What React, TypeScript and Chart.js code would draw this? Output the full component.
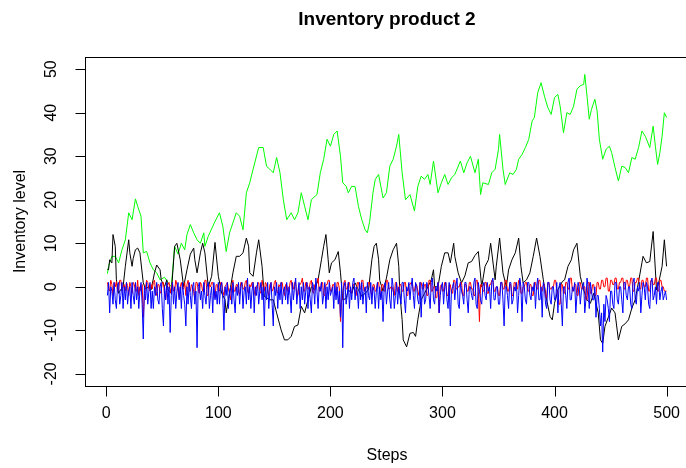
import React, { useEffect, useRef } from "react";
import { Chart, registerables } from "chart.js";

Chart.register(...registerables);

// ---------- text ----------
const TITLE = "Inventory product 2";
const X_LABEL = "Steps";
const Y_LABEL = "Inventory level";
const xTicks = [0, 100, 200, 300, 400, 500];
const yTicks = [-20, -10, 0, 10, 20, 30, 40, 50];

// ---------- green series (step, value) ----------
const greenSteps = [
  1, 2, 5, 8, 11, 14, 17, 20, 23, 26, 28, 31, 33, 36, 39, 42, 45, 48, 52, 55, 58, 61, 64, 67, 70, 72, 75, 78,
  81, 84, 87, 88, 91, 97, 101, 104, 107, 110, 116, 119, 122, 125, 128, 131, 136, 140, 143, 146, 149, 152, 155,
  158, 161, 165, 168, 171, 174, 177, 180, 183, 188, 191, 194, 197, 200, 203, 206, 209, 211, 214, 216, 219, 222,
  225, 228, 231, 233, 235, 238, 240, 243, 247, 250, 253, 256, 259, 261, 264, 267, 271, 275, 278, 281, 284, 287,
  289, 292, 296, 299, 302, 305, 308, 311, 316, 319, 322, 325, 329, 332, 334, 336, 341, 344, 347, 350, 351, 354,
  356, 360, 363, 366, 368, 371, 374, 377, 380, 382, 385, 388, 391, 394, 397, 400, 403, 405, 408, 411, 414, 417,
  420, 423, 426, 427, 429, 431, 433, 436, 438, 440, 443, 446, 449, 451, 454, 457, 460, 463, 466, 469, 472, 475,
  478, 481, 485, 488, 490, 492, 494, 496, 498, 500,
];
const greenValues = [
  3, 4.7, 7, 7, 5.5, 8.5, 10.8, 17, 15.4, 20.2, 18.5, 16.2, 7.8, 8.1, 5.5, 3.9, 3.2, 1.6, 2.2, 1, 0, 9.3, 7.5, 10,
  8.5, 12, 14.3, 12.4, 10.8, 10, 12.4, 9.3, 11.6, 15, 17, 13.9, 8.1, 12.4, 17, 16.2, 13.1, 21.6, 23.9, 27, 32, 32,
  27.7, 27, 26.2, 29.7, 26.2, 20, 15.4, 17, 15.4, 17, 21.6, 18.5, 15.4, 20, 21.2, 26.2, 29.3, 33.9, 32.3, 35, 35.8,
  30, 23.9, 23.1, 21.6, 23.1, 23, 18.5, 15.4, 13.1, 12.4, 15, 21.6, 24.7, 25.8, 20.4, 21.6, 27.7, 29.3, 32.3, 35,
  26.2, 20, 21.2, 17.4, 23.1, 25.4, 24.7, 25.8, 23.5, 28.9, 21.6, 23.9, 25.8, 23.5, 25, 25.8, 28.9, 26.2, 28.5, 30,
  26.2, 29.3, 21.2, 23.9, 23.5, 26.2, 27, 31.6, 35, 27, 23.5, 26.2, 25.8, 27, 29.3, 30.4, 32, 33.9, 38.1, 38.9,
  44.6, 46.9, 43.8, 41.2, 39.6, 43.5, 44.2, 41.5, 35.4, 40, 39.6, 41.5, 45.4, 46.2, 46.5, 48.8, 43.8, 38.5, 40.8,
  43.1, 40.4, 33.9, 29.3, 31.6, 32.3, 30.8, 27.4, 24.3, 27.7, 27.4, 26.2, 29.7, 29.3, 32, 35.8, 34.6, 32, 36.9,
  32.3, 28.1, 30.8, 34.6, 40, 38.9,
];

// ---------- black series (step, value) ----------
const blackSteps = [
  1, 2, 3, 5, 6, 8, 9, 11, 12, 15, 17, 20, 21, 23, 24, 26, 28, 30, 33, 35, 38, 40, 43, 45, 48, 49, 52, 54, 55, 58,
  61, 63, 66, 69, 72, 75, 78, 79, 81, 84, 86, 88, 91, 94, 97, 100, 103, 106, 107, 109, 110, 113, 116, 119, 122,
  125, 127, 128, 131, 134, 136, 139, 141, 146, 149, 152, 156, 159, 162, 165, 168, 171, 174, 177, 180, 183, 186,
  189, 192, 194, 196, 198, 199, 201, 204, 207, 209, 211, 214, 216, 219, 222, 225, 228, 231, 234, 237, 239, 241,
  243, 244, 247, 250, 253, 256, 259, 261, 262, 264, 265, 268, 271, 274, 276, 278, 281, 284, 287, 290, 292, 293,
  296, 299, 302, 305, 307, 310, 311, 314, 317, 320, 323, 326, 329, 332, 335, 338, 341, 343, 347, 348, 351, 354,
  357, 359, 362, 365, 368, 370, 372, 375, 378, 381, 384, 387, 390, 393, 396, 398, 400, 403, 407, 409, 412, 415,
  417, 420, 423, 426, 429, 432, 435, 439, 441, 443, 445, 448, 451, 454, 457, 460, 463, 466, 469, 472, 475, 478,
  479, 482, 485, 488, 491, 493, 496, 498, 500,
];
const blackValues = [
  4, 3.9, 6.2, 5.5, 12, 9.3, 1.6, -1.5, -1, 0, 4.7, 10.8, 7.8, 4.7, 6.5, 8.5, 8.9, 7.8, 0.9, -0.5, 0, -0.7, 3.2, 5,
  3.9, 1.6, 0, 1.6, -0.7, -1.5, 9.3, 10, 6.2, 0, 3.9, 7.5, 8.9, 6.2, 3.2, 7.8, 10, 7.8, 0, 2.4, 10.2, 2.4, -1.5,
  -3, -6, -3, -1.5, 3.2, 7, 7, 7.8, 11.2, 9.3, 3.2, 2.4, 7.8, 10.8, 4.7, -2.2, -3, -3, -6, -9.9, -12.2, -12.2,
  -11.4, -9.1, -8.8, -4.5, -6, -3, 0, -0.7, 1.6, 6.2, 9.3, 12, 6.2, 3.2, 5.5, 6.2, 8.1, 3.2, -3, -2.7, -0.7, -1.5,
  0.9, -0.7, -2.2, -1.5, -0.7, 6.2, 9.3, 10, 6.2, 1.5, -1, 2, 6.2, 8.5, 10, 4.7, -1.5, -7.6, -12.2, -13.8, -10.7,
  -10.5, -11.4, -7.6, -3, -1.5, 0, 1.6, 3.9, 0, 0, 4.7, 7.8, 7.8, 5.5, 10, 7, 3.2, 0.9, 2.5, 5.5, 5.8, 7.2, 8.1, 0,
  4.7, 6.2, 10, 1.6, 4.7, 11.2, 3.2, 0, 3.9, 6.2, 7.8, 11.2, 4.7, 0.9, 1.6, 3.2, 7, 11.2, 7, 1.6, -3, -6.8, -7.6,
  -3.8, -0.7, 1.2, 1.6, 4.7, 6.2, 8.5, 10, 2.4, -0.7, -3, -3.8, -1.5, -6, -12.2, -13, -9.1, -7, -4.9, -6, -12.2,
  -9.1, -8.5, -7.6, -4.9, -3, 1.2, 5.5, 7, 5.5, 5.8, 12.7, -0.7, 1, 4.7, 10.8, 4.7,
];

// ---------- red and blue series: one value per step (1 ... 500), ten steps per row ----------
const redValues = [
  1, -0.5, -1, 1.5, 0.5, -2, 1, 0, 1.2, -1,
  -0.5, 1.5, 1.5, -1, 0, 0.5, -1, 1, 0.3, -2,
  1, 0, -1.5, 1, 0.5, -1, -1, 1.5, -2, 0,
  -1, 0.5, -7, -2, 0, 1.5, 1, -0.5, -1, 0.5,
  -0.5, 1, 1.5, -1, -2, 0.5, 0.5, -1.5, -1, 1,
  1, -2, -3, 0, 0.5, 1, -1.5, 0, 1, -1,
  -1, 1.5, 0.5, -1, -2.5, 0, 1, -0.5, -0.5, 1,
  -2, 0.5, 1.5, -1, -1, 0.5, 0, -1, -3, 1,
  1, -0.5, -1.5, 1, 0.5, -1, -1, 1.5, 1.5, -2,
  -2, 0.5, 0, 1, 1, -1, -2.5, 0.5, 0.5, -1,
  -1, 1, 1, -1, -2, 0, 0.5, 1, -0.5, -1.5,
  -3, 0.5, 1.5, -1, -1, 0.5, 0.5, -1, -2, 1,
  1, -0.5, -0.5, 1, 1.5, -1, -1.5, 0.5, 0, 1,
  1, -1, -2, 0, 0.5, 1, -1, -1.5, 1.5, 0,
  -1, 1, 0.5, -1, -2, 0.5, 1, -1, -0.5, 1,
  1.5, -1, -1.5, 0.5, 0, 1, 1, -1, -2, 0.5,
  0.5, -1, -1, 1, 1.5, -0.5, -0.5, 1, 1, -2,
  -2, 0.5, 0.5, 1, 2, -1, -1, 1, 1, -0.5,
  -0.5, 1, 1.5, -1, -1.5, 0.5, 0.5, 1, 2, -1,
  -1, 1, 1, -2, -2, 0.5, 0.5, 1.5, 1.5, -1,
  -1, 0.5, 0.5, -1, -2, 1, 1, -0.5, -8, -3,
  -3, 1, 1.5, -0.5, -0.5, 1, 1, -1, -1.5, 0.5,
  0.5, -1, -2, 1, 1, -0.5, -0.5, 1.5, 1.5, -1,
  -1, 0, 0, 1, 1, -1, -2, 0.5, 0.5, -1,
  -1, 1, 1, -1, -2.5, 0.5, 0.5, -1, -1, 1.5,
  1.5, -0.5, -0.5, 0, 0, -1, -2, 1, 1, -1,
  -1.5, 0.5, 0.5, -1, -1, 1, 1, -2, -2, 0.5,
  0.5, 1, 1, -1, -1, 0.5, 0.5, -1, -2, 1,
  1, -0.5, -0.5, 0.5, 0.5, -2, -2, 1.5, 1.5, -1,
  -1, 0, 0, -2.5, -2.5, 1, -6, 0, 0.5, -1,
  -1, 1, 1, -2, -2, 0.5, 0.5, -1.5, -1.5, 1.5,
  1.5, -0.5, -0.5, 0, 0, 1, 1, -2, -2, 0.5,
  0.5, -1, -1, 1, 1, -0.5, -0.5, -2, -2, 1.5,
  1.5, -1, -8, 0.5, 0.5, -1, -1, 1, 1, -1.5,
  -1.5, 0.5, 0.5, 1.5, 1.5, -1, -1, 0, 0, -2,
  -2, 1, 1, -0.5, -0.5, 1.5, 1.5, -1, -1, 0.5,
  0.5, -2, -2, 1, 1, -0.5, -0.5, 1.5, 1.5, -1.5,
  -1.5, 0, 0, 1, 1, -1, -1, 0.5, 0.5, -2,
  -2, 1, 1, -0.5, -0.5, 1.5, 1.5, -1, -1, 0.5,
  0.5, -2.5, -2.5, 1, 1, -0.5, -0.5, 0, 0, 1.5,
  1.5, -1, -1, -4, -4, 0.5, 0.5, -1.5, -1.5, 1,
  1, -0.5, -0.5, 2, 2, -1, -1, 0.5, 0.5, -2,
  -2, 1, 1, -0.5, -0.5, 0, 0, -3, -3, 1,
  1, -1.5, -1.5, 0.5, 0.5, -2, -2, 1, 1, -0.5,
  -0.5, 1.5, 1.5, 0, 0, 2, 2, -1, -1, 1.5,
  1.5, 0.5, 0.5, 2, 2, -0.5, -0.5, 1, 1, 2,
  2, -0.5, -0.5, 1.5, 1.5, 0, 0, 2, 2, -1,
  -1, 1, 1, 2, 2, -0.5, -0.5, 1.5, 1.5, 0,
  0, 2, 2, -1, -1, 1.5, 1.5, 0.5, 0.5, 2,
  2, -1, -1, 1.5, 1.5, 0, 0, -1, -1, -1,
];
const blueValues = [
  -2, 1, -6, 0, -1, -4, 1, -3, -5, 0,
  1, -4, -2, 1, -5, 0, -3, 1, -4, -1,
  0, -5, 1, -2, -4, 1, -3, 0, -5, -1,
  1, -4, -12, 0, -3, 1, -4, -1, 1, -5,
  -1, -5, 0, -2, 1, -3, -4, 0, 1, -5,
  -9, 0, -3, 1, -4, 0, -10.5, -2, 1, -4,
  0, -5, -1, 1, -3, 0, -5, 1, -2, -4,
  -9, 0, -4, 1, -2, -5, 0, 1, -4, -1,
  -14, 0, 1, -3, -1, -5, 1, -2, -4, 0,
  1, -5, -2, 0, -6, 1, -3, -1, -4, 1,
  -4, 0, 1, -3, -10, 0, -2, 1, -5, -1,
  0, -4, 1, -3, -6, 0, -2, 1, -4, 0,
  1, -5, -1, 0, -4, 2, -3, 0, -5, -1,
  1, -6, 0, -2, 1, -4, -1, 1, -3, 0,
  -9, 0, -3, 1, -5, -1, 1, -4, -9, 0,
  -2, 1, -5, 0, -3, 1, -4, -1, 0, -3,
  1, -4, 0, -2, -6, 1, -3, 0, 2, -4,
  -1, 1, -5, 0, -3, 1, -4, -1, 1, -5,
  0, -3, -6, 1, 0, -4, 2, -1, -5, 0,
  -1, 1, -4, -2, 1, -5, 0, -3, 1, -2,
  -1, 0, -5, 1, -3, 0, -4, -1, -7, 1,
  -14, 0, 1, -4, -2, 1, -5, 0, -3, 1,
  2, -3, 0, -1, -5, 1, -3, 1, -4, -1,
  0, -6, 1, -2, -3, 1, -4, 0, -1, -5,
  -1, 1, -5, 0, -3, -1, -8, 0, 1, -4,
  -1, 1, -3, -5, 2, 0, -5, -2, 1, -4,
  0, -2, -4, 1, 1, -3, -6, 0, -1, 1,
  -3, 0, 2, -2, -5, 1, 0, -3, -4, 1,
  -7, 0, 1, -4, -3, 1, 0, -2, -5, 1,
  2, -3, -4, 0, -1, 1, -6, -2, 0, 1,
  -4, 0, 1, -3, -5, 1, -9, -1, 0, 1,
  -3, 0, 2, -4, -5, 1, -1, -2, -4, 1,
  1, -3, -6, 0, 0, -2, -3, 1, 2, -4,
  -5, 1, -1, -3, -4, 0, 1, -2, -3, 1,
  -1, 0, -5, 1, 2, -3, -3, 0, 0, -4,
  -4, 1, 1, -3, -9, 0, 0, -2, -5, 1,
  1, -4, -3, 0, -1, 1, -6, -2, 2, 0,
  -8, 1, 0, -3, -4, 1, 1, -2, -3, 0,
  -1, 1, -5, 0, 2, -3, -3, 0, -7, 1,
  0, -4, -5, 1, 1, -3, -4, 0, 0, -3,
  -3, 1, -6, 0, 1, -4, -9, 0, 0, -2,
  -5, 1, 2, -3, -3, 0, -1, 1, -6, -2,
  1, 0, -4, -1, 0, 1, -6, -3, 2, 0,
  -5, 1, -1, -3, -3, 0, -7, -2, -2, -5,
  -9, -6, -15, -4, -8, -2, -3, -5, -8, -1,
  -1, -4, -5, 1, 1, -3, -4, 0, 0, -3,
  -6, 1, 1, -2, -3, 0, 0, -4, -5, 1,
  2, -3, -4, 0, -1, 1, -6, -2, 1, 0,
  -3, 1, 0, -4, -5, 1, 2, -3, -2, 0,
  -4, 1, 1, -3, -1, 0, -3, -2, -1, -3,
];
const noiseSteps = redValues.map((_, i) => i + 1);

const toPoints = (xs: number[], ys: number[]) => xs.map((x, i) => ({ x, y: ys[i] }));

const FONT = '"Liberation Sans", Arial, Helvetica, sans-serif';

const rAxesPlugin = {
  id: "rAxes",
  afterDraw(chart: any) {
    const { ctx, chartArea: a, scales } = chart;
    const xs = scales.x;
    const ys = scales.y;
    ctx.save();
    ctx.strokeStyle = "#000";
    ctx.fillStyle = "#000";
    ctx.lineWidth = 1;
    const L = Math.round(a.left) + 0.5;
    const T = Math.round(a.top) + 0.5;
    const R = Math.round(a.right) + 0.5;
    const B = Math.round(a.bottom) + 0.5;
    ctx.strokeRect(L, T, R - L, B - T);
    ctx.beginPath();
    for (const t of xTicks) {
      const px = Math.round(xs.getPixelForValue(t)) + 0.5;
      ctx.moveTo(px, B);
      ctx.lineTo(px, B + 10);
    }
    for (const t of yTicks) {
      const py = Math.round(ys.getPixelForValue(t)) + 0.5;
      ctx.moveTo(L, py);
      ctx.lineTo(L - 10, py);
    }
    ctx.stroke();
    ctx.font = `16px ${FONT}`;
    ctx.textAlign = "center";
    ctx.textBaseline = "alphabetic";
    for (const t of xTicks) {
      const px = xs.getPixelForValue(t);
      ctx.fillText(String(t), px, B + 31);
    }
    for (const t of yTicks) {
      const py = ys.getPixelForValue(t);
      ctx.save();
      ctx.translate(L - 30, py);
      ctx.rotate(-Math.PI / 2);
      ctx.fillText(String(t), 0, 0);
      ctx.restore();
    }
    const cx = (a.left + a.right) / 2;
    const cy = (a.top + a.bottom) / 2;
    ctx.fillText(X_LABEL, cx, B + 73);
    ctx.save();
    ctx.translate(25, cy);
    ctx.rotate(-Math.PI / 2);
    ctx.fillText(Y_LABEL, 0, 0);
    ctx.restore();
    ctx.font = `bold 19px ${FONT}`;
    ctx.fillText(TITLE, cx, 25);
    ctx.restore();
  },
};

export default function App() {
  const ref = useRef<HTMLCanvasElement | null>(null);
  useEffect(() => {
    document.body.style.margin = "0";
    const canvas = ref.current;
    if (!canvas) return;
    const line = (data: any[], color: string, order: number) => ({
      data,
      borderColor: color,
      backgroundColor: color,
      borderWidth: 1,
      pointRadius: 0,
      pointHoverRadius: 0,
      fill: false,
      tension: 0,
      order,
    });
    const chart = new Chart(canvas, {
      type: "line",
      data: {
        datasets: [
          line(toPoints(greenSteps, greenValues), "#00ff00", 3),
          line(toPoints(blackSteps, blackValues), "#000000", 2),
          line(toPoints(noiseSteps, redValues), "#ff0000", 1),
          line(toPoints(noiseSteps, blueValues), "#0000ff", 0),
        ],
      },
      options: {
        responsive: false,
        animation: false,
        devicePixelRatio: 1,
        layout: { padding: { left: 85, right: 11, top: 57, bottom: 82 } },
        plugins: {
          legend: { display: false },
          title: { display: false },
          tooltip: { enabled: false },
        },
        events: [],
        scales: {
          x: { type: "linear", min: -19, max: 520, display: false },
          y: { type: "linear", min: -22.8, max: 52.8, display: false },
        },
      },
      plugins: [rAxesPlugin],
    } as any);
    return () => chart.destroy();
  }, []);
  return (
    <div
      style={{
        position: "fixed",
        left: 0,
        top: 0,
        width: 686,
        height: 468,
        overflow: "hidden",
        background: "#fff",
      }}
    >
      <canvas ref={ref} width={700} height={468} style={{ display: "block", width: 700, height: 468 }} />
    </div>
  );
}
